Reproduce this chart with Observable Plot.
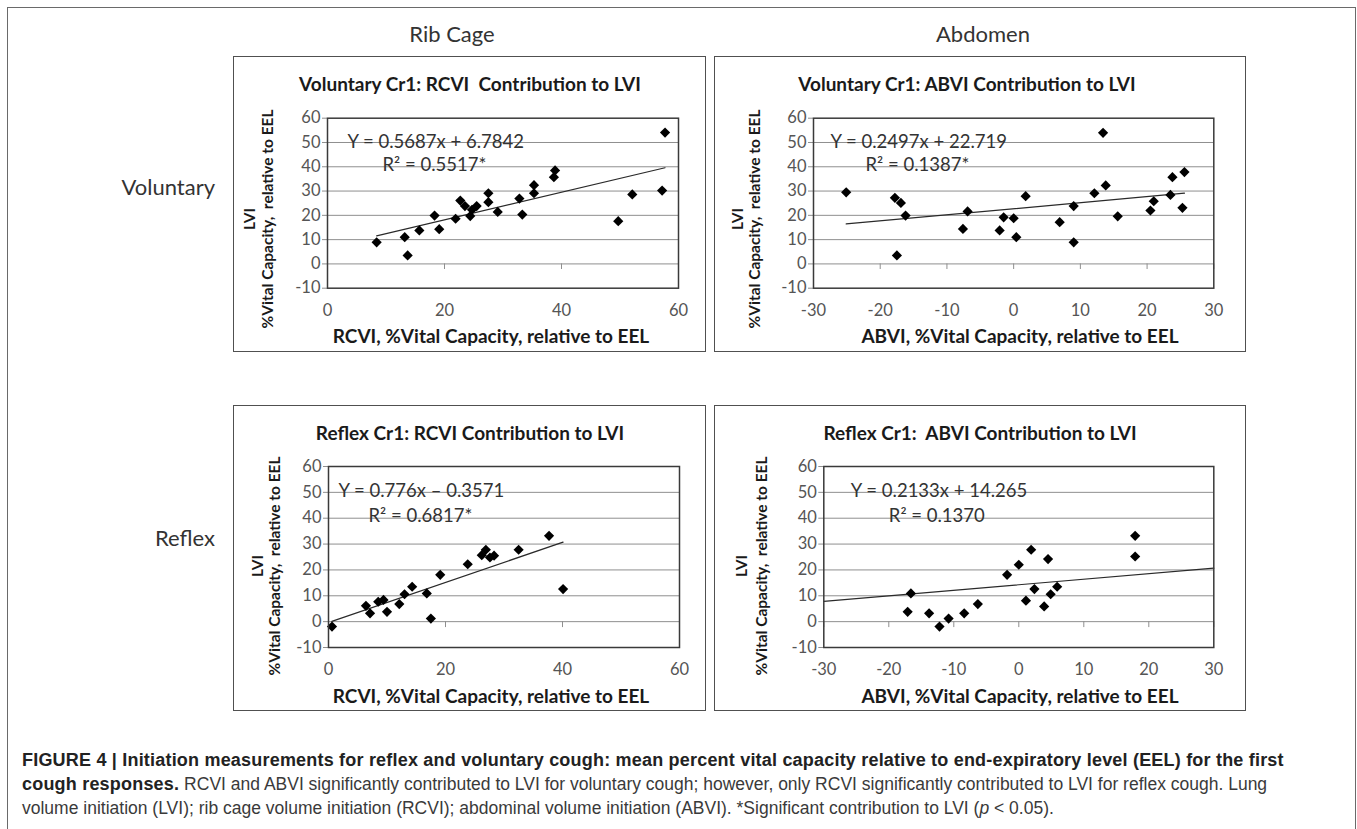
<!DOCTYPE html>
<html>
<head>
<meta charset="utf-8">
<script src="https://cdn.jsdelivr.net/npm/d3@7"></script>
<script src="https://cdn.jsdelivr.net/npm/@observablehq/plot@0.6"></script>
<style>
  html, body { margin: 0; padding: 0; background: #fff; }
  #page { position: relative; width: 1357px; height: 829px; overflow: hidden; background: #fff; font-family: Lato, "Open Sans", sans-serif; }
  #outer { position: absolute; left: 7px; top: 7px; width: 1349px; height: 840px; border: 1.5px solid #6a6a6a; box-sizing: border-box; }
  .box { position: absolute; border: 1.5px solid #505050; box-sizing: border-box; background: #fff; }
  .plotwrap { position: absolute; }
  .lbl { position: absolute; white-space: pre; transform: translate(-50%, -50%); line-height: 1; }
  .head { font-size: 22px; color: #333; }
  .title { font-size: 19px; font-weight: 700; color: #1a1a1a; }
  .xtitle { font-size: 19px; font-weight: 700; color: #1a1a1a; }
  .ytitle { font-size: 15.5px; font-weight: 700; color: #1a1a1a; transform: translate(-50%, -50%) rotate(-90deg); }
  #caption { position: absolute; left: 22px; top: 748px; font-family: "Liberation Sans", Arial, sans-serif; font-size: 17.5px; line-height: 24px; color: #3a3a3a; white-space: nowrap; }
  #caption b { color: #222; font-size: 18px; letter-spacing: 0.2px; }
</style>
</head>
<body>
<div id="page">
  <div id="outer"></div>
</div>
<script>
// ---------- data ----------
const columnHeads = ["Rib Cage", "Abdomen"];
const rowHeads = ["Voluntary", "Reflex"];

const titles = [
  "Voluntary Cr1: RCVI  Contribution to LVI",
  "Voluntary Cr1: ABVI Contribution to LVI",
  "Reflex Cr1: RCVI Contribution to LVI",
  "Reflex Cr1:  ABVI Contribution to LVI"
];
const xTitles = [
  "RCVI, %Vital Capacity, relative to EEL",
  "ABVI, %Vital Capacity, relative to EEL",
  "RCVI, %Vital Capacity, relative to EEL",
  "ABVI, %Vital Capacity, relative to EEL"
];
const yTitle1 = "LVI";
const yTitle2 = "%Vital Capacity,  relative to EEL";

const equations = [
  "Y = 0.5687x + 6.7842",
  "Y = 0.2497x + 22.719",
  "Y = 0.776x \u2013 0.3571",
  "Y = 0.2133x + 14.265"
];
const rSquared = [
  "R\u00B2 = 0.5517*",
  "R\u00B2 = 0.1387*",
  "R\u00B2 = 0.6817*",
  "R\u00B2 = 0.1370"
];

// trend lines: slope, intercept, x extent
const slopes = [0.5687, 0.2497, 0.776, 0.2133];
const intercepts = [6.7842, 22.719, -0.3571, 14.265];
const trendFrom = [8.4, -25.1, 0.57, -30];
const trendTo = [57.7, 25.6, 40.1, 30];

const yTicks = [-10, 0, 10, 20, 30, 40, 50, 60];
const gridY = [0, 10, 20, 30, 40, 50];
const xTicksRC = [0, 20, 40, 60];
const xTicksAB = [-30, -20, -10, 0, 10, 20, 30];

// Voluntary, rib cage
const volRC_x = [8.4, 13.2, 13.7, 15.7, 18.3, 19.1, 21.9, 22.7, 23.5, 24.4, 24.7, 25.5, 27.5, 27.5, 29.1, 32.8, 33.3, 35.3, 35.3, 38.7, 38.9, 49.7, 52.1, 57.2, 57.7];
const volRC_y = [8.9, 11.0, 3.5, 13.8, 19.9, 14.3, 18.6, 26.1, 23.8, 19.7, 22.3, 23.8, 29.1, 25.4, 21.4, 26.9, 20.3, 32.4, 29.1, 35.7, 38.5, 17.6, 28.6, 30.2, 54.1];

// Voluntary, abdomen
const volAB_x = [-25.1, -17.8, -16.9, -16.2, -17.5, -7.6, -6.9, -2.1, -1.5, 0.0, 0.4, 1.8, 6.9, 9.0, 9.0, 12.1, 13.4, 13.8, 15.6, 20.5, 21.0, 23.5, 23.8, 25.3, 25.6];
const volAB_y = [29.5, 27.2, 25.1, 19.9, 3.5, 14.4, 21.6, 13.8, 19.2, 18.8, 11.0, 27.9, 17.2, 23.8, 8.9, 29.1, 54.0, 32.3, 19.6, 22.0, 25.8, 28.4, 35.7, 23.1, 37.8];

// Reflex, rib cage
const refRC_x = [0.6, 6.4, 7.1, 8.5, 9.4, 10.0, 12.1, 13.0, 14.3, 16.8, 17.5, 19.1, 23.8, 26.2, 26.9, 27.6, 28.3, 32.5, 37.7, 40.1];
const refRC_y = [-1.9, 6.1, 3.2, 7.7, 8.4, 3.8, 6.8, 10.6, 13.5, 10.9, 1.2, 18.1, 22.2, 25.7, 27.8, 24.8, 25.5, 27.8, 33.2, 12.6];

// Reflex, abdomen
const refAB_x = [-17.1, -16.6, -13.8, -12.2, -10.8, -8.4, -6.3, -1.8, 0.0, 1.1, 1.9, 2.4, 3.9, 4.5, 4.9, 5.9, 17.9, 17.9];
const refAB_y = [3.8, 10.9, 3.2, -1.9, 1.2, 3.2, 6.8, 18.1, 22.0, 8.1, 27.8, 12.6, 5.9, 24.2, 10.6, 13.5, 33.2, 25.2];

// ---------- layout (page pixels) ----------
const boxes = [
  {l: 233, t: 56, r: 706, b: 352, pl: 327, pt: 117.7, pr: 678, pb: 287.7},
  {l: 714, t: 56, r: 1246, b: 352, pl: 813, pt: 117.7, pr: 1213.3, pb: 287.7},
  {l: 233, t: 405, r: 706, b: 711, pl: 328, pt: 466, pr: 679, pb: 647},
  {l: 714, t: 405, r: 1246, b: 711, pl: 823.3, pt: 466, pr: 1213.3, pb: 647}
];
const titlePos = [[470, 83], [967, 83], [470, 432], [980, 432]];
const xTitlePos = [[491, 335], [1020, 335], [491, 695], [1020, 695]];
const yTitlePos = [[250, 268, 219], [738, 755, 219], [258, 275, 566], [742, 762, 566]];
const eqPos = [[20, 17, 55, 40], [17, 17, 52, 40], [10, 17, 40, 42], [27, 17, 65, 42]];

const page = document.getElementById("page");

function addLabel(text, cls, x, y) {
  const d = document.createElement("div");
  d.className = "lbl " + cls;
  d.textContent = text;
  d.style.left = x + "px";
  d.style.top = y + "px";
  page.appendChild(d);
}

addLabel(columnHeads[0], "head", 452, 34);
addLabel(columnHeads[1], "head", 983, 34);
const rh = (t, y) => {
  const d = document.createElement("div");
  d.className = "lbl head";
  d.textContent = t;
  d.style.left = "215px";
  d.style.top = y + "px";
  d.style.transform = "translate(-100%, -50%)";
  page.appendChild(d);
};
rh(rowHeads[0], 187);
rh(rowHeads[1], 538);

const series = [
  [volRC_x, volRC_y, xTicksRC, [0, 60]],
  [volAB_x, volAB_y, xTicksAB, [-30, 30]],
  [refRC_x, refRC_y, xTicksRC, [0, 60]],
  [refAB_x, refAB_y, xTicksAB, [-30, 30]]
];
const fmt = d => String(d);

series.forEach(([xs, ys, xticks, xdom], i) => {
  const bx = boxes[i];
  const box = document.createElement("div");
  box.className = "box";
  box.style.left = bx.l + "px";
  box.style.top = bx.t + "px";
  box.style.width = (bx.r - bx.l) + "px";
  box.style.height = (bx.b - bx.t) + "px";
  page.appendChild(box);

  const pts = xs.map((x, k) => ({x, y: ys[k]}));
  const trend = [trendFrom[i], trendTo[i]].map(x => ({x, y: slopes[i] * x + intercepts[i]}));
  const W = bx.r - bx.l, H = bx.b - bx.t;
  const [ex1, ey1, ex2, ey2] = eqPos[i];

  const chart = Plot.plot({
    width: W,
    height: H,
    marginLeft: bx.pl - bx.l,
    marginRight: bx.r - bx.pr,
    marginTop: bx.pt - bx.t,
    marginBottom: bx.b - bx.pb,
    style: {fontFamily: "Lato, sans-serif", fontSize: "16px", color: "#555", background: "transparent", overflow: "visible"},
    x: {domain: xdom, label: null},
    y: {domain: [-10, 60], label: null},
    marks: [
      Plot.ruleY(gridY, {stroke: "#8f8f8f", strokeWidth: 1}),
      Plot.ruleX(xticks, {y1: 0, y2: -2.3, stroke: "#8f8f8f", strokeWidth: 1}),
      Plot.axisY({ticks: yTicks, tickFormat: fmt, tickSize: 5, tickPadding: 2, stroke: "#8f8f8f", fill: "#555", fontSize: 16.5, label: null}),
      Plot.axisX({ticks: xticks, tickFormat: fmt, tickSize: 0, tickPadding: 16, fill: "#555", fontSize: 16.5, label: null}),
      Plot.line(trend, {x: "x", y: "y", stroke: "#2a2a2a", strokeWidth: 1.2}),
      Plot.dot(pts, {x: "x", y: "y", symbol: "diamond2", r: 4.6, fill: "#000", stroke: "none"}),
      Plot.frame({stroke: "#3a3a3a", strokeWidth: 1.5}),
      Plot.text([equations[i]], {frameAnchor: "top-left", dx: ex1, dy: ey1, textAnchor: "start", fontSize: 18.5, fill: "#333"}),
      Plot.text([rSquared[i]], {frameAnchor: "top-left", dx: ex2, dy: ey2, textAnchor: "start", fontSize: 18.5, fill: "#333"})
    ]
  });
  const wrap = document.createElement("div");
  wrap.className = "plotwrap";
  wrap.style.left = bx.l + "px";
  wrap.style.top = bx.t + "px";
  wrap.appendChild(chart);
  page.appendChild(wrap);

  addLabel(titles[i], "title", titlePos[i][0], titlePos[i][1]);
  addLabel(xTitles[i], "xtitle", xTitlePos[i][0], xTitlePos[i][1]);
  addLabel(yTitle1, "ytitle", yTitlePos[i][0], yTitlePos[i][2]);
  addLabel(yTitle2, "ytitle", yTitlePos[i][1], yTitlePos[i][2]);
});

const cap = document.createElement("div");
cap.id = "caption";
cap.innerHTML = "<b>FIGURE 4 | Initiation measurements for reflex and voluntary cough: mean percent vital capacity relative to end-expiratory level (EEL) for the first<br>cough responses.</b> RCVI and ABVI significantly contributed to LVI for voluntary cough; however, only RCVI significantly contributed to LVI for reflex cough. Lung<br>volume initiation (LVI); rib cage volume initiation (RCVI); abdominal volume initiation (ABVI). *Significant contribution to LVI (<i>p</i> &lt; 0.05).";
page.appendChild(cap);
</script>
</body>
</html>
